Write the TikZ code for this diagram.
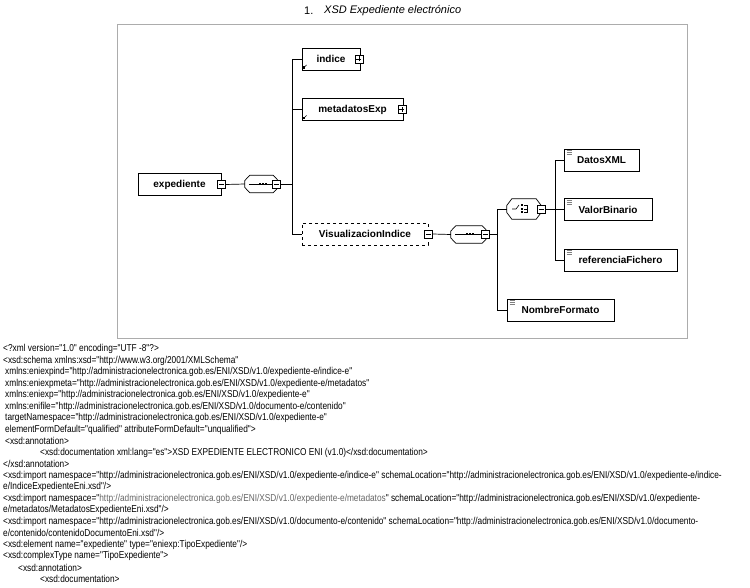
\documentclass[tikz,border=0pt]{standalone}
\usepackage{fontspec}
\setmainfont{Liberation Sans}
\newfontfamily\codefont[FakeStretch=0.83]{Liberation Sans}
\begin{document}
\begin{tikzpicture}[x=1pt,y=-1pt,
  elem/.style={draw, line width=0.8pt, inner sep=0, minimum height=22, font=\fontsize{10}{12}\selectfont\bfseries},
  pm/.style={draw, line width=0.6pt, fill=white, inner sep=0, minimum size=8},
  comp/.style={inner sep=0, minimum height=17},
  conn/.style={line width=0.7pt},
  code/.style={anchor=west, inner sep=0, font=\codefont\fontsize{10}{11}\selectfont},
  icon/.style={line width=0.5pt, gray}
]
\useasboundingbox (0,0) rectangle (750,588);
\newcommand\octo[1]{\draw[conn] ([yshift=3.5]#1.west) -- ([xshift=5]#1.north west) -- ([xshift=-5]#1.north east) -- ([yshift=3.5]#1.east) -- ([yshift=-3.5]#1.east) -- ([xshift=-5]#1.south east) -- ([xshift=5]#1.south west) -- ([yshift=-3.5]#1.west) -- cycle;}
\newcommand\simpleicon[1]{\foreach \d in {2,4,6} \draw[icon] ([xshift=3,yshift=-\d]#1.north west) -- ([xshift=8,yshift=-\d]#1.north west);}
\newcommand\reficon[1]{\fill ([xshift=1,yshift=1.5]#1.south west) rectangle ([xshift=3.5,yshift=4]#1.south west); \draw[line width=0.7pt] ([xshift=2,yshift=2.5]#1.south west) -- ([xshift=5,yshift=5.5]#1.south west);}
\newcommand\plussign[1]{\draw[line width=0.5pt] ([xshift=-2.5]#1.center) -- ([xshift=2.5]#1.center) ([yshift=-2.5]#1.center) -- ([yshift=2.5]#1.center);}
\newcommand\minussign[1]{\draw[line width=0.5pt] ([xshift=-2.5]#1.center) -- ([xshift=2.5]#1.center);}

% title
\node[anchor=west, inner sep=0, font=\fontsize{11}{13}\selectfont] (num) at (304,11) {1.};
\node[anchor=west, inner sep=0, font=\fontsize{11}{13}\selectfont\itshape] (title) at (324,11) {XSD Expediente electrónico};

% frame
\node[draw=gray!65, line width=1.4pt, inner sep=0, minimum width=570, minimum height=314, anchor=north west] (frame) at (117,24) {};

% elements
\node[elem, minimum width=83] (exp) at (179.5,184.5) {expediente};
\node[pm] (expm) at (exp.east) {}; \minussign{expm}

\node[comp, minimum width=33] (seq1) at (261.5,184) {};
\octo{seq1}
\draw[line width=0.6pt] ([xshift=4]seq1.west) -- ([xshift=-6]seq1.east);
\foreach \dx in {-2,1,4} \fill ([xshift=\dx-1,yshift=-1]seq1.center) rectangle ([xshift=\dx+1,yshift=1]seq1.center);
\node[pm] (seq1m) at ([xshift=-1.5]seq1.east) {}; \minussign{seq1m}

\node[elem, minimum width=58] (ind) at (331,59) {indice};
\node[pm] (indp) at ([xshift=-1.5]ind.east) {}; \plussign{indp}
\reficon{ind}

\node[elem, minimum width=101] (meta) at (352.5,109.5) {metadatosExp};
\node[pm] (metap) at ([xshift=-1.5]meta.east) {}; \plussign{metap}
\reficon{meta}

\node[elem, dashed, minimum width=126] (visu) at (365,234) {VisualizacionIndice};
\node[pm] (visum) at (visu.east) {}; \minussign{visum}

\node[comp, minimum width=36] (seq2) at (469,234.5) {};
\octo{seq2}
\draw[line width=0.6pt] ([xshift=4]seq2.west) -- ([xshift=-6]seq2.east);
\foreach \dx in {-2,1,4} \fill ([xshift=\dx-1,yshift=-1]seq2.center) rectangle ([xshift=\dx+1,yshift=1]seq2.center);
\node[pm] (seq2m) at ([xshift=-1.5]seq2.east) {}; \minussign{seq2m}

\node[comp, minimum width=34, minimum height=20] (ch) at (524,209) {};
\octo{ch}
\begin{scope}[shift={(ch.center)}, line width=0.6pt]
  \draw (-12,0) -- (-8,0) -- (-5,-4);
  \foreach \dy in {-3.5,0,3.5} \fill (-3,\dy-1) rectangle (-1,\dy+1);
  \draw (0,-3.5) -- (3,-3.5) -- (3,3.5) -- (0,3.5) (0,0) -- (3,0);
\end{scope}
\node[pm] (chm) at (ch.east) {}; \minussign{chm}

\node[elem, minimum width=75] (datos) at (601.5,160) {DatosXML};
\simpleicon{datos}
\node[elem, minimum width=88] (valor) at (608,209.5) {ValorBinario};
\simpleicon{valor}
\node[elem, minimum width=113] (ref) at (620.5,260) {referenciaFichero};
\simpleicon{ref}
\node[elem, minimum width=107] (nombre) at (560.5,310) {NombreFormato};
\simpleicon{nombre}

% connectors
\coordinate (v1) at (292,0);
\coordinate (v2) at (497,0);
\coordinate (v3) at (555,0);
\draw[conn] (expm.east) -- (seq1.west);
\draw[conn] (seq1m.east) -- (seq1m.east -| v1);
\draw[conn] (ind.west) -- (ind.west -| v1) -- (visu.west -| v1) -- (visu.west);
\draw[conn] (meta.west) -- (meta.west -| v1);
\draw[conn] (visum.east) -- (seq2.west);
\draw[conn] (seq2m.east) -- (seq2m.east -| v2);
\draw[conn] (ch.west) -- (ch.west -| v2) -- (nombre.west -| v2) -- (nombre.west);
\draw[conn] (chm.east) -- (chm.east -| v3);
\draw[conn] (datos.west) -- (datos.west -| v3) -- (ref.west -| v3) -- (ref.west);
\draw[conn] (valor.west) -- (valor.west -| v3);

% code text
\node[code] (t1) at (3,349) {<?xml version="1.0" encoding="UTF -8"?>};
\node[code] (t2) at (3,360.5) {<xsd:schema xmlns:xsd="http://www.w3.org/2001/XMLSchema"};
\node[code] (t3) at (5,372) {xmlns:eniexpind="http://administracionelectronica.gob.es/ENI/XSD/v1.0/expediente-e/indice-e"};
\node[code] (t4) at (5,383.5) {xmlns:eniexpmeta="http://administracionelectronica.gob.es/ENI/XSD/v1.0/expediente-e/metadatos"};
\node[code] (t5) at (5,395) {xmlns:eniexp="http://administracionelectronica.gob.es/ENI/XSD/v1.0/expediente-e"};
\node[code] (t6) at (5,406.5) {xmlns:enifile="http://administracionelectronica.gob.es/ENI/XSD/v1.0/documento-e/contenido"};
\node[code] (t7) at (5,418) {targetNamespace="http://administracionelectronica.gob.es/ENI/XSD/v1.0/expediente-e"};
\node[code] (t8) at (5,429.5) {elementFormDefault="qualified" attributeFormDefault="unqualified">};
\node[code] (t9) at (5,441) {<xsd:annotation>};
\node[code] (t10) at (40,452.5) {<xsd:documentation xml:lang="es">XSD EXPEDIENTE ELECTRONICO ENI (v1.0)</xsd:documentation>};
\node[code] (t11) at (3,464) {</xsd:annotation>};
\node[code] (t12) at (3,475.5) {<xsd:import namespace="http://administracionelectronica.gob.es/ENI/XSD/v1.0/expediente-e/indice-e" schemaLocation="http://administracionelectronica.gob.es/ENI/XSD/v1.0/expediente-e/indice-};
\node[code] (t13) at (3,487) {e/IndiceExpedienteEni.xsd"/>};
\node[code] (t14) at (3,498.5) {<xsd:import namespace="{\color{black!60}http://administracionelectronica.gob.es/ENI/XSD/v1.0/expediente-e/metadatos}" schemaLocation="http://administracionelectronica.gob.es/ENI/XSD/v1.0/expediente-};
\node[code] (t15) at (3,510) {e/metadatos/MetadatosExpedienteEni.xsd"/>};
\node[code] (t16) at (3,521.5) {<xsd:import namespace="http://administracionelectronica.gob.es/ENI/XSD/v1.0/documento-e/contenido" schemaLocation="http://administracionelectronica.gob.es/ENI/XSD/v1.0/documento-};
\node[code] (t17) at (3,533) {e/contenido/contenidoDocumentoEni.xsd"/>};
\node[code] (t18) at (3,544.5) {<xsd:element name="expediente" type="eniexp:TipoExpediente"/>};
\node[code] (t19) at (3,556) {<xsd:complexType name="TipoExpediente">};
\node[code] (t20) at (18,567.5) {<xsd:annotation>};
\node[code] (t21) at (40,579) {<xsd:documentation>};
\end{tikzpicture}
\end{document}
